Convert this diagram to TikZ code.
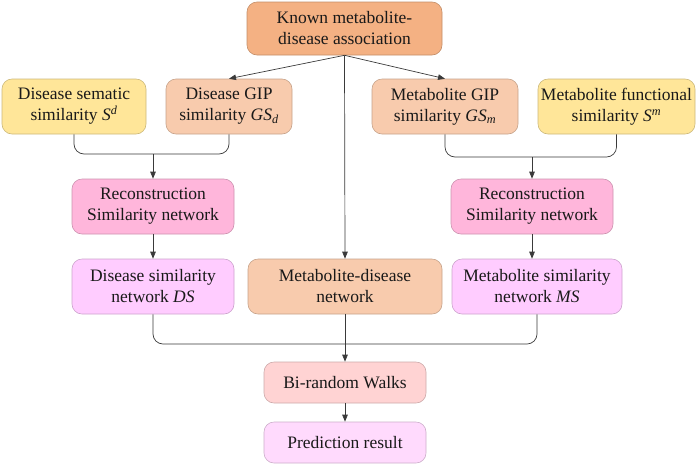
\documentclass[tikz,border=0pt]{standalone}
\usepackage{fontspec}
\setmainfont{LiberationSerif}[Extension=.ttf, UprightFont=*-Regular, ItalicFont=*-Italic, BoldFont=*-Bold, BoldItalicFont=*-BoldItalic]
\usetikzlibrary{arrows.meta}
\definecolor{cTop}{HTML}{F4B183}
\definecolor{cPeach}{HTML}{F8CBAD}
\definecolor{cYel}{HTML}{FFE699}
\definecolor{cRec}{HTML}{FFB6DB}
\definecolor{cNet}{HTML}{FFCCFF}
\definecolor{cBi}{HTML}{FFD3D3}
\definecolor{cPred}{HTML}{FFDAFD}
\definecolor{cLine}{HTML}{3A3A3A}
\tikzset{
  box/.style={rounded corners=10pt, align=center, inner sep=2pt,
    font=\rmfamily\fontsize{17.5}{21}\selectfont, text=black!90, line width=0.6pt},
  topbox/.style={box, fill=cTop, draw=cTop!80!black},
  peachbox/.style={box, fill=cPeach, draw=cPeach!80!black},
  yelbox/.style={box, fill=cYel, draw=cYel!80!black},
  recbox/.style={box, fill=cRec, draw=cRec!80!black},
  netbox/.style={box, fill=cNet, draw=cNet!80!black},
  bibox/.style={box, fill=cBi, draw=cBi!80!black},
  predbox/.style={box, fill=cPred, draw=cPred!80!black},
  conn/.style={draw=cLine, line width=0.7pt},
  arr/.style={conn, -{Triangle[length=7pt,width=5.5pt]}},
  brk/.style={conn, rounded corners=10pt},
}
\begin{document}
\begin{tikzpicture}[x=1pt,y=-1pt]
\useasboundingbox (0,0) rectangle (700,464);
\node[topbox, minimum width=195pt, minimum height=53pt] (top) at (344.5,28.5) {Known metabolite-\\disease association};
\node[yelbox, minimum width=144pt, minimum height=55pt] (dsem) at (74,106.5) {Disease sematic\\similarity \textit{S}\textsuperscript{\textit{d}}};
\node[peachbox, minimum width=126pt, minimum height=55pt] (dgip) at (229,106.5) {Disease GIP\\similarity \textit{GS}\textsubscript{\textit{d}}};
\node[peachbox, minimum width=146pt, minimum height=55pt] (mgip) at (445,106.5) {Metabolite GIP\\similarity \textit{GS}\textsubscript{\textit{m}}};
\node[yelbox, minimum width=157pt, minimum height=55pt] (mfun) at (616.5,106.5) {Metabolite functional\\similarity \textit{S}\textsuperscript{\textit{m}}};
\node[recbox, minimum width=162pt, minimum height=55pt] (recl) at (153,206.5) {Reconstruction\\Similarity network};
\node[recbox, minimum width=162pt, minimum height=55pt] (recr) at (532,206.5) {Reconstruction\\Similarity network};
\node[netbox, minimum width=162pt, minimum height=55pt] (ds) at (153,286.5) {Disease similarity\\network \textit{DS}};
\node[peachbox, minimum width=194pt, minimum height=55pt] (md) at (345,286.5) {Metabolite-disease\\network};
\node[netbox, minimum width=170pt, minimum height=55pt] (ms) at (537,286.5) {Metabolite similarity\\network \textit{MS}};
\node[bibox, minimum width=162pt, minimum height=41pt] (bi) at (345,382.5) {Bi-random Walks};
\node[predbox, minimum width=162pt, minimum height=41pt] (pred) at (345,442.5) {Prediction result};
% top arrows
\draw[arr] (top.south) -- (dgip.north);
\draw[arr] (top.south) -- (mgip.north);
\draw[arr] (top.south) -- (md.north);
% left bracket
\coordinate (jl) at (153,154);
\draw[brk] (dsem.south) |- (jl) -| (dgip.south);
\draw[arr] (jl) -- (recl.north);
% right bracket
\coordinate (jr) at (532,157);
\draw[brk] (mgip.south) |- (jr) -| (mfun.south);
\draw[arr] (jr) -- (recr.north);
% rec to nets
\draw[arr] (recl.south) -- (ds.north);
\draw[arr] (recr.south) -- (recr.south |- ms.north);
% bottom bracket
\coordinate (jb) at (345,344);
\draw[brk] (ds.south) |- (jb) -| (ms.south);
\draw[arr] (md.south) -- (bi.north);
\draw[arr] (bi.south) -- (pred.north);
\end{tikzpicture}
\end{document}
